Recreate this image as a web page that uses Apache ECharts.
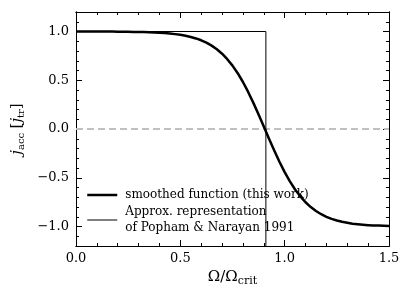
<!DOCTYPE html>
<html><head><meta charset="utf-8">
<script src="https://cdn.jsdelivr.net/npm/echarts@6/dist/echarts.min.js"></script>
<style>html,body{margin:0;padding:0;background:#fff}#c{width:412px;height:302px}</style>
</head><body><div id="c"></div>
<script>
// x values (Ω/Ωcrit) and smoothed function values
const omegaX = [0.000,0.025,0.050,0.075,0.100,0.125,0.150,0.175,0.200,0.225,0.250,0.275,0.300,0.325,0.350,0.375,0.400,0.425,0.450,0.475,0.500,0.525,0.550,0.575,0.600,0.625,0.650,0.675,0.700,0.725,0.750,0.775,0.800,0.825,0.850,0.875,0.900,0.925,0.950,0.975,1.000,1.025,1.050,1.075,1.100,1.125,1.150,1.175,1.200,1.225,1.250,1.275,1.300,1.325,1.350,1.375,1.400,1.425,1.450,1.475,1.500];
const smoothedJ = [1.000,1.000,1.000,0.999,0.999,0.999,0.999,0.999,0.998,0.998,0.997,0.996,0.995,0.994,0.992,0.990,0.987,0.984,0.979,0.973,0.966,0.956,0.944,0.929,0.910,0.885,0.855,0.818,0.772,0.716,0.650,0.572,0.482,0.380,0.268,0.149,0.025,-0.100,-0.221,-0.336,-0.442,-0.537,-0.620,-0.691,-0.751,-0.801,-0.841,-0.874,-0.901,-0.922,-0.938,-0.952,-0.962,-0.971,-0.977,-0.982,-0.986,-0.989,-0.991,-0.993,-0.995];
// step approximation (Popham & Narayan 1991)
const stepX = [0, 0.91, 0.91];
const stepJ = [1, 1, -1.2];
// zero reference
const zeroX = [0, 1.5];
const zeroJ = [0, 0];
// ticks
const xMajorTicks = [0, 0.5, 1.0, 1.5];
const xMinorTicks = [0.1,0.2,0.3,0.4,0.6,0.7,0.8,0.9,1.1,1.2,1.3,1.4];
const yMajorTicks = [-1.0, -0.5, 0.0, 0.5, 1.0];
const yMinorTicks = [-1.2,-1.1,-0.9,-0.8,-0.7,-0.6,-0.4,-0.3,-0.2,-0.1,0.1,0.2,0.3,0.4,0.6,0.7,0.8,0.9,1.1,1.2];
const nameSmooth = 'smoothed function (this work)';
const nameStep = 'Approx. representation\nof Popham & Narayan 1991';

const zip = (a,b)=>a.map((v,i)=>[v,b[i]]);
const FONT = 'DejaVu Serif';
const X0 = 0, X1 = 1.5, Y0 = -1.2, Y1 = 1.2;

function xAx(pos, ticks, len, labels, extra){
  return Object.assign({type:'value', position:pos, min:X0, max:X1,
    axisLine:{show:true, onZero:false, lineStyle:{color:'#000', width:1}},
    axisTick:{show:true, inside:true, length:len, customValues:ticks, lineStyle:{color:'#000', width:1}},
    axisLabel:{show:labels, customValues:ticks, formatter:v=>v.toFixed(1), fontFamily:FONT, fontSize:13, color:'#000', margin:6},
    splitLine:{show:false}}, extra||{});
}
function yAx(pos, ticks, len, labels, extra){
  return Object.assign({type:'value', position:pos, min:Y0, max:Y1,
    axisLine:{show:true, onZero:false, lineStyle:{color:'#000', width:1}},
    axisTick:{show:true, inside:true, length:len, customValues:ticks, lineStyle:{color:'#000', width:1}},
    axisLabel:{show:labels, customValues:ticks, formatter:v=>(v<0?'\u2212':'')+Math.abs(v).toFixed(1), fontFamily:FONT, fontSize:13, color:'#000', margin:7},
    splitLine:{show:false}}, extra||{});
}

const chart = echarts.init(document.getElementById('c'), null, {renderer:'canvas'});
chart.setOption({
  animation:false,
  backgroundColor:'#fff',
  grid:{left:76, right:23, top:12, bottom:56},
  xAxis:[
    xAx('bottom', xMajorTicks, 6, true, {
      name:'{a|\u03A9/\u03A9}{s|crit}', nameLocation:'middle', nameGap:21,
      nameTextStyle:{rich:{a:{fontFamily:FONT, fontSize:15, color:'#000'}, s:{fontFamily:FONT, fontSize:11, color:'#000', padding:[8,0,0,0]}}}
    }),
    xAx('bottom', xMinorTicks, 3, false),
    xAx('top', xMajorTicks, 6, false),
    xAx('top', xMinorTicks, 3, false)
  ],
  yAxis:[
    yAx('left', yMajorTicks, 6, true, {
      name:'{i|j}{s|acc} {b|[}{i|j}{s|tr}{b|]}', nameLocation:'middle', nameGap:50, nameRotate:90,
      nameTextStyle:{fontFamily:FONT, fontSize:14, color:'#000',
        rich:{i:{fontFamily:FONT, fontStyle:'italic', fontSize:15, color:'#000'},
              b:{fontFamily:FONT, fontSize:15, color:'#000'},
              s:{fontFamily:FONT, fontSize:10, color:'#000', padding:[7,0,0,0]}}}
    }),
    yAx('left', yMinorTicks, 3, false),
    yAx('right', yMajorTicks, 6, false),
    yAx('right', yMinorTicks, 3, false)
  ],
  legend:{
    orient:'vertical', left:81, top:182, itemGap:1, itemWidth:30, itemHeight:14,
    data:[
      {name:nameSmooth, lineStyle:{width:2.5, color:'#000'}},
      {name:nameStep, lineStyle:{width:1, color:'#000'}}
    ],
    itemStyle:{opacity:0},
    textStyle:{fontFamily:FONT, fontSize:12, color:'#000', lineHeight:16, padding:[0,0,0,3]},
    backgroundColor:'transparent'
  },
  series:[
    {type:'line', name:'zero', data:zip(zeroX, zeroJ), symbol:'none', silent:true,
     lineStyle:{color:'#c0c0c0', width:2, type:[7,4]}, z:1},
    {type:'line', name:nameStep, data:zip(stepX, stepJ), symbol:'none',
     lineStyle:{color:'#000', width:1}, itemStyle:{color:'#000'}, z:2},
    {type:'line', name:nameSmooth, data:zip(omegaX, smoothedJ), symbol:'none',
     lineStyle:{color:'#000', width:2.5, join:'round'}, itemStyle:{color:'#000'}, z:3}
  ]
});
</script></body></html>
